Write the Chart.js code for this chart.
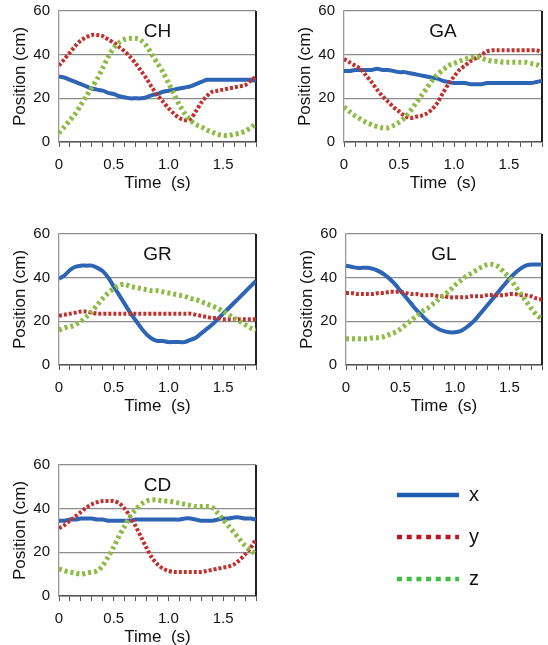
<!DOCTYPE html>
<html>
<head>
<meta charset="utf-8">
<script src="https://cdn.jsdelivr.net/npm/chart.js@4/dist/chart.umd.min.js"></script>
<style>
	body { margin: 0; width: 548px; height: 645px; overflow: hidden; background: #fff; position: relative; }
	canvas { position: absolute; }
</style>
</head>
<body>
<canvas id="ch" width="270" height="200" style="left:0px;top:0px"></canvas>
<canvas id="ga" width="263" height="200" style="left:285px;top:0px"></canvas>
<canvas id="gr" width="270" height="200" style="left:0px;top:223px"></canvas>
<canvas id="gl" width="261" height="200" style="left:287px;top:223px"></canvas>
<canvas id="cd" width="270" height="200" style="left:0px;top:454px"></canvas>
<canvas id="legend" width="173" height="160" style="left:375px;top:463px"></canvas>
<script>
var TIME = [0, 0.05, 0.1, 0.15, 0.2, 0.25, 0.3, 0.35, 0.4, 0.45, 0.5, 0.55, 0.6, 0.65, 0.7, 0.75, 0.8, 0.85, 0.9,
	0.95, 1.0, 1.05, 1.1, 1.15, 1.2, 1.25, 1.3, 1.35, 1.4, 1.45, 1.5, 1.55, 1.6, 1.65, 1.7, 1.75, 1.8];
var SERIES_LABELS = ["x", "y", "z"];

var CH_X = [30, 29.5, 28.5, 27.5, 26.5, 25.5, 24.5, 24, 23.5, 22.5, 22, 21, 20.5, 20, 20, 20, 20.5, 21.5, 22, 23,
	23.5, 24, 24.5, 25, 25.5, 26.5, 27.5, 28.5, 28.5, 28.5, 28.5, 28.5, 28.5, 28.5, 28.5, 28.5, 28];
var CH_Y = [35, 38, 41, 44, 46.5, 48, 49, 49, 48.5, 47, 45.5, 43.5, 41.5, 39, 36, 32.5, 29, 25, 21.5, 18.5,
	15.5, 13, 11, 10, 10.5, 14, 18, 21, 23, 23.5, 24, 24.5, 25, 25.5, 26, 28, 30];
var CH_Z = [4, 7, 10, 13, 17, 21, 25, 29, 34, 39, 43, 45.5, 47, 47.5, 47.5, 46.5, 44, 40, 36, 32,
	27, 22, 17, 13, 10, 8, 7, 5.5, 4.5, 3.5, 3, 3, 3.5, 4, 5, 6.5, 8.5];

var GA_X = [32.5, 32.5, 33, 33, 33, 33, 33.5, 33, 33, 32.5, 32, 32, 31.5, 31, 30.5, 30, 29.5, 29, 28, 27.5,
	27, 27, 27, 26.5, 26.5, 26.5, 27, 27, 27, 27, 27, 27, 27, 27, 27, 27.5, 28];
var GA_Y = [38, 36.5, 35, 33.5, 30.5, 27.5, 24, 21, 18.5, 16, 14, 12, 11, 11.5, 12, 13, 15, 18, 22.5, 26.5,
	30, 33, 35, 37, 38.5, 40, 41.5, 42, 42, 42, 42, 42, 42, 42, 42, 42, 41];
var GA_Z = [16, 14, 12, 10.5, 9, 8, 7, 6.5, 6.5, 7.5, 9, 11, 14, 17.5, 21, 24.5, 28, 31, 33, 35,
	36, 37, 38, 38.5, 39, 38.5, 37.5, 37, 37, 36.5, 36.5, 36.5, 36.5, 36.5, 36, 35.5, 34];

var GR_X = [39.5, 41, 43.5, 45, 45.5, 45.5, 45.5, 44.5, 43, 40, 36, 32, 28, 24, 20.5, 17, 14, 12, 11, 11,
	10.5, 10.5, 10.5, 10.5, 11.5, 12.5, 14.5, 16.5, 18.5, 21, 23.5, 26, 28.5, 31, 33.5, 36, 38.5];
var GR_Y = [22.5, 23, 23.5, 24, 24.5, 24.5, 24, 23.5, 23.5, 23.5, 23.5, 23.5, 23.5, 23.5, 23.5, 23.5, 23.5, 23.5, 23.5, 23.5,
	23.5, 23.5, 23.5, 23.5, 23.5, 23, 22.5, 22, 21.5, 21.5, 21, 21, 21, 21, 21, 21, 21];
var GR_Z = [16, 17, 17.5, 18.5, 20, 22, 24.5, 27.5, 30.5, 33, 35, 36.5, 37, 36, 35.5, 35, 34.5, 34, 34, 33.5,
	33, 32.5, 32, 31.5, 30.5, 30, 29, 28, 27, 26, 24.5, 23, 21.5, 20, 18.5, 17, 16];

var GL_X = [45.5, 45, 44.5, 44.5, 44.5, 44, 43, 41.5, 39.5, 37, 34, 31, 28, 25, 22.5, 20, 18, 16.5, 15.5, 15,
	15, 15.5, 17, 19, 21.5, 24.5, 27.5, 30.5, 33.5, 36.5, 39.5, 42, 44, 45.5, 46, 46, 46];
var GL_Y = [33, 33, 32.5, 32.5, 32.5, 32.5, 33, 33, 33.5, 33.5, 33.5, 33, 32.5, 32.5, 32, 32, 32, 31.5, 31.5, 31,
	31, 31, 31, 31.5, 31.5, 31.5, 32, 32, 32, 32, 32.5, 32.5, 32, 32, 31.5, 30.5, 30];
var GL_Z = [12, 12, 12, 12, 12, 12.5, 12.5, 13, 14, 15, 16.5, 18.5, 20.5, 22.5, 24.5, 26, 28, 30, 32, 34,
	36.5, 38.5, 40.5, 42, 43.5, 45, 46, 46, 45, 42.5, 40, 36.5, 33, 29.5, 26, 23, 21];

var CD_X = [34.5, 34.5, 35, 35, 35.5, 35.5, 35.5, 35, 35, 34.5, 34.5, 34.5, 34.5, 34.5, 35, 35, 35, 35, 35, 35,
	35, 35, 35, 35.5, 35.5, 35, 34.5, 34.5, 34.5, 35, 35.5, 35.5, 36, 36, 35.5, 35.5, 35];
var CD_Y = [31, 32.5, 34.5, 36.5, 38.5, 40.5, 42, 43, 43.5, 43.5, 43.5, 42.5, 40, 36.5, 32, 27, 22, 17.5, 14.5, 12.5,
	11.5, 11, 11, 11, 11, 11, 11, 11.5, 12, 12.5, 13, 13.5, 14.5, 16.5, 19, 22, 26];
var CD_Z = [12.5, 11.5, 11, 10.5, 10, 10.5, 11, 11.5, 14, 18, 22.5, 27.5, 32, 36.5, 39.5, 42, 43.5, 44, 44, 43.5,
	43.5, 43, 42.5, 42, 41.5, 41, 41, 41, 40.5, 38, 35, 32, 29, 26, 23, 21, 19];

Chart.defaults.font.family = "'Liberation Sans', Arial, sans-serif";
Chart.defaults.color = "#111";

var lineStyles = [
	{ color: "#2e64b4", width: 4, dash: [], order: 3 },
	{ color: "#c0302c", width: 4, dash: [3, 2], order: 2 },
	{ color: "#8cbc44", width: 5, dash: [3, 3], order: 1 }
];

// frame edge + panel name inside the plot
var panelDecor = {
	id: "panelDecor",
	beforeDatasetsDraw: function(chart) {
		var a = chart.chartArea, ctx = chart.ctx;
		ctx.save();
		ctx.strokeStyle = "#222";
		ctx.lineWidth = 2;
		ctx.beginPath();
		ctx.moveTo(a.right, a.top);
		ctx.lineTo(a.right, a.bottom);
		ctx.stroke();
		ctx.restore();
	},
	afterDraw: function(chart, args, opts) {
		var a = chart.chartArea, ctx = chart.ctx;
		ctx.save();
		ctx.fillStyle = "#111";
		ctx.font = "19px 'Liberation Sans', Arial, sans-serif";
		ctx.textAlign = "center";
		ctx.textBaseline = "middle";
		ctx.fillText(opts.name, (a.left + a.right) / 2, a.top + 21);
		ctx.restore();
	}
};

function makePanel(canvasId, name, series, padRight) {
	var datasets = series.map(function(values, i) {
		var st = lineStyles[i];
		return {
			label: SERIES_LABELS[i],
			data: TIME.map(function(t, k) { return { x: t, y: values[k] }; }),
			borderColor: st.color,
			backgroundColor: st.color,
			borderWidth: st.width,
			borderDash: st.dash,
			borderCapStyle: "butt",
			order: st.order,
			pointRadius: 0,
			tension: 0.3,
			fill: false
		};
	});

	new Chart(document.getElementById(canvasId), {
		type: "line",
		data: { datasets: datasets },
		plugins: [panelDecor],
		options: {
			responsive: false,
			animation: false,
			devicePixelRatio: 1,
			layout: { padding: { top: 11, right: padRight, bottom: 0, left: 0 } },
			plugins: {
				legend: { display: false },
				tooltip: { enabled: false },
				panelDecor: { name: name }
			},
			scales: {
				x: {
					type: "linear",
					min: 0,
					max: 1.8,
					ticks: {
						stepSize: 0.1,
						autoSkip: false,
						maxRotation: 0,
						padding: 9,
						font: { size: 15 },
						callback: function(v) {
							var k = Math.round(v * 10);
							if(k % 5 !== 0) {
								return "";
							}
							return k === 0 ? "0" : (k / 10).toFixed(1);
						}
					},
					grid: { drawOnChartArea: false, drawTicks: true, tickLength: 5, color: "#555" },
					border: { color: "#555", width: 1.5 },
					title: { display: true, text: "Time  (s)", font: { size: 17 }, padding: { top: 0, bottom: 6 } },
					afterFit: function(s) {
						s.height = 58;
						s.paddingLeft = 0;
						s.paddingRight = 0;
					}
				},
				y: {
					min: 0,
					max: 60,
					ticks: { stepSize: 20, padding: 9, font: { size: 15 } },
					grid: { color: "#8c8c8c", lineWidth: 1.3, drawTicks: false },
					border: { color: "#999", width: 1.3 },
					title: { display: true, text: "Position (cm)", font: { size: 17 }, padding: { top: 10, bottom: 0 } },
					afterFit: function(s) {
						s.width = 59;
						s.paddingTop = 0;
						s.paddingBottom = 0;
					}
				}
			}
		}
	});
}

makePanel("ch", "CH", [CH_X, CH_Y, CH_Z], 14);
makePanel("ga", "GA", [GA_X, GA_Y, GA_Z], 6);
makePanel("gr", "GR", [GR_X, GR_Y, GR_Z], 14);
makePanel("gl", "GL", [GL_X, GL_Y, GL_Z], 6);
makePanel("cd", "CD", [CD_X, CD_Y, CD_Z], 14);

// Legend lives on its own little chart
var legendColors = ["#1f5fb0", "#c0141e", "#3dbe3d"];
var legendDash = [[], [5, 4.7], [5, 4.7]];
new Chart(document.getElementById("legend"), {
	type: "line",
	data: { datasets: [] },
	options: {
		responsive: false,
		animation: false,
		devicePixelRatio: 1,
		layout: { padding: 0 },
		scales: { x: { display: false }, y: { display: false } },
		plugins: {
			tooltip: { enabled: false },
			legend: {
				position: "left",
				align: "start",
				maxWidth: 165,
				labels: {
					usePointStyle: true,
					pointStyleWidth: 62,
					padding: 22,
					color: "#111",
					font: { size: 20 },
					generateLabels: function() {
						return SERIES_LABELS.map(function(label, i) {
							return {
								text: label,
								fontColor: "#111",
								strokeStyle: legendColors[i],
								fillStyle: legendColors[i],
								lineWidth: 4.5,
								lineDash: legendDash[i],
								lineCap: "butt",
								pointStyle: "line",
								hidden: false,
								datasetIndex: i
							};
						});
					}
				}
			}
		}
	}
});
</script>
</body>
</html>
